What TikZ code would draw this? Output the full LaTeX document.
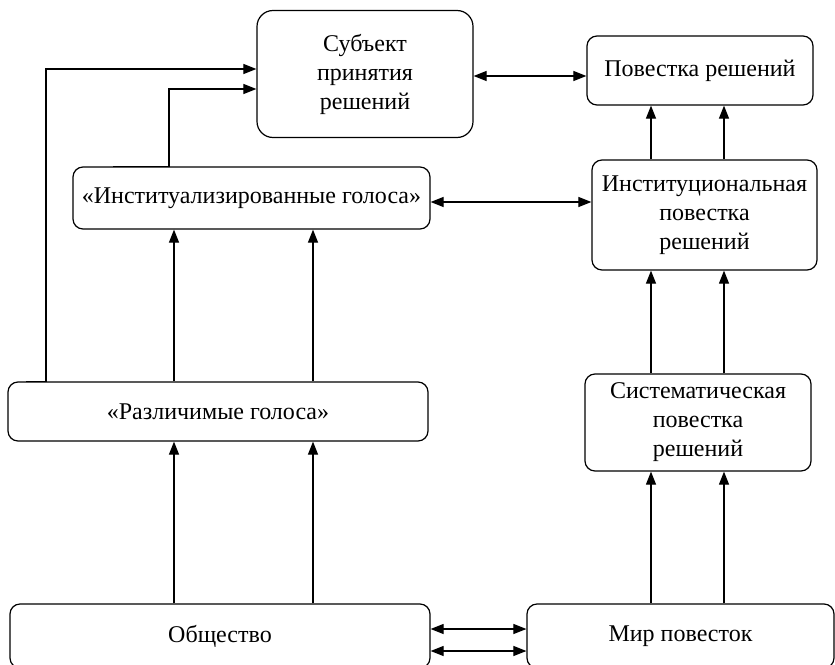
\documentclass[tikz,border=0pt]{standalone}
\usepackage{fontspec}
\setmainfont{Liberation Serif}
\usetikzlibrary{arrows.meta}
\begin{document}
\begin{tikzpicture}[x=1pt,y=-1pt,
  box/.style={draw, line width=1.2pt, rounded corners=10pt, inner sep=0pt, align=center,
    font=\fontsize{24}{29}\selectfont},
  arr/.style={line width=1.1pt, -{Triangle[length=13pt,width=10pt]}},
  darr/.style={line width=1.1pt, {Triangle[length=13pt,width=10pt]}-{Triangle[length=13pt,width=10pt]}}]
\useasboundingbox (0,0) rectangle (835,664);
% nodes
\node[box, rounded corners=16pt, minimum width=216pt, minimum height=127pt] (subj) at (365,74) {Субъект\\принятия\\решений};
\node[box, minimum width=226pt, minimum height=69pt] (pov) at (700,70.5) {Повестка решений};
\node[box, minimum width=357pt, minimum height=62pt] (inst) at (251.5,198) {«Институализированные голоса»};
\node[box, minimum width=225pt, minimum height=110pt] (instpov) at (704.5,215) {Институциональная\\повестка\\решений};
\node[box, minimum width=420pt, minimum height=59pt] (razl) at (218,411.5) {«Различимые голоса»};
\node[box, minimum width=226pt, minimum height=97pt] (sist) at (698,422.5) {Систематическая\\повестка\\решений};
\node[box, minimum width=420pt, minimum height=64pt] (obsh) at (220,636) {Общество};
\node[box, minimum width=307pt, minimum height=64pt] (mir) at (680.5,636) {Мир повесток};
% helper coordinates
\coordinate (xa) at (174,0);
\coordinate (xb) at (313,0);
\coordinate (xc) at (651,0);
\coordinate (xd) at (724,0);
\coordinate (ya) at (0,76);
\coordinate (yb) at (0,202);
\coordinate (yc) at (0,629);
\coordinate (yd) at (0,651);
\coordinate (yf1) at (0,69);
\coordinate (yf2) at (0,89);
\coordinate (xl) at (46,0);
\coordinate (xm) at (169,0);
% vertical arrows, left column
\draw[arr] (obsh.north -| xa) -- (razl.south -| xa);
\draw[arr] (obsh.north -| xb) -- (razl.south -| xb);
\draw[arr] (razl.north -| xa) -- (inst.south -| xa);
\draw[arr] (razl.north -| xb) -- (inst.south -| xb);
% vertical arrows, right column
\draw[arr] (mir.north -| xc) -- (sist.south -| xc);
\draw[arr] (mir.north -| xd) -- (sist.south -| xd);
\draw[arr] (sist.north -| xc) -- (instpov.south -| xc);
\draw[arr] (sist.north -| xd) -- (instpov.south -| xd);
\draw[arr] (instpov.north -| xc) -- (pov.south -| xc);
\draw[arr] (instpov.north -| xd) -- (pov.south -| xd);
% horizontal double arrows
\draw[darr] (subj.east |- ya) -- (pov.west |- ya);
\draw[darr] (inst.east |- yb) -- (instpov.west |- yb);
\draw[darr] (obsh.east |- yc) -- (mir.west |- yc);
\draw[darr] (obsh.east |- yd) -- (mir.west |- yd);
% feedback connectors to the decision maker
\draw[arr] ([xshift=19pt]razl.north west) -- (xl |- razl.north) -- (xl |- yf1) -- (subj.west |- yf1);
\draw[arr] ([xshift=41pt]inst.north west) -- (xm |- inst.north) -- (xm |- yf2) -- (subj.west |- yf2);
\end{tikzpicture}
\end{document}
